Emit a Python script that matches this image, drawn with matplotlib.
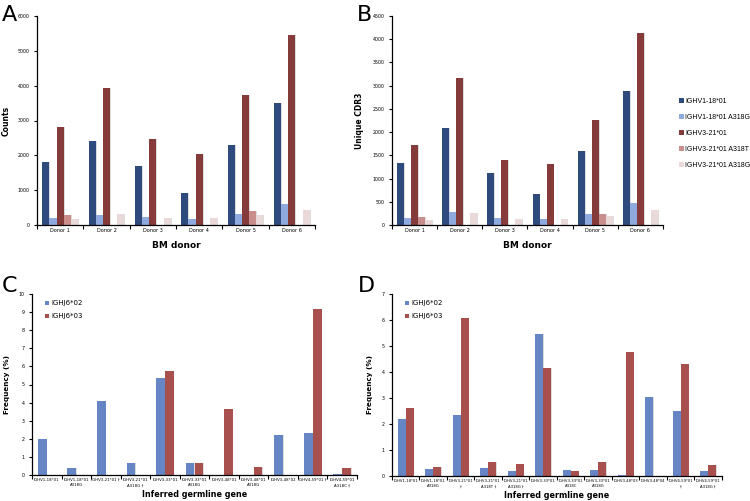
import matplotlib
matplotlib.use("Agg")
import matplotlib.pyplot as plt
import numpy as np

# ---- Data ----
donors = ["Donor 1", "Donor 2", "Donor 3", "Donor 4", "Donor 5", "Donor 6"]
series_ab = ["IGHV1-18*01", "IGHV1-18*01 A318G", "IGHV3-21*01",
             "IGHV3-21*01 A318T", "IGHV3-21*01 A318G"]
counts_v118 = [1800, 2420, 1700, 920, 2310, 3510]
counts_v118_a318g = [200, 300, 230, 160, 310, 600]
counts_v321 = [2800, 3940, 2470, 2050, 3730, 5450]
counts_v321_a318t = [280, 0, 0, 0, 390, 0]
counts_v321_a318g = [170, 330, 200, 190, 300, 420]

cdr3_v118 = [1340, 2080, 1130, 660, 1595, 2880]
cdr3_v118_a318g = [160, 270, 160, 130, 230, 475]
cdr3_v321 = [1720, 3160, 1390, 1310, 2260, 4140]
cdr3_v321_a318t = [180, 0, 0, 0, 240, 0]
cdr3_v321_a318g = [110, 250, 120, 120, 190, 320]

genes_c = ["IGHV1-18*01", "IGHV1-18*01\nA318G", "IGHV3-21*01 \u2020",
           "IGHV3-21*01\nA318G \u2020", "IGHV3-33*01", "IGHV3-33*01\nA318G",
           "IGHV3-48*01", "IGHV3-48*01\nA318G", "IGHV3-48*02",
           "IGHV4-59*01 \u2020", "IGHV4-59*01\nA318C \u2020"]
c_j602 = [1.97, 0.40, 4.10, 0.65, 5.35, 0.65, 0.0, 0.0, 2.20, 2.32, 0.08]
c_j603 = [0.0, 0.0, 0.0, 0.0, 5.75, 0.68, 3.64, 0.44, 0.0, 9.17, 0.37]

genes_d = ["IGHV1-18*01", "IGHV1-18*01\nA318G", "IGHV3-21*01\n\u2020",
           "IGHV3-21*01\nA318T \u2020", "IGHV3-21*01\nA318G \u2020",
           "IGHV3-33*01", "IGHV3-33*01\nA318C", "IGHV3-33*01\nA318G",
           "IGHV3-48*03", "IGHV3-48*04", "IGHV4-59*01\n\u2020",
           "IGHV4-59*01\nA318G \u2020"]
d_j602 = [2.19, 0.28, 2.35, 0.32, 0.20, 5.45, 0.25, 0.22, 0.03, 3.03, 2.49, 0.18]
d_j603 = [2.63, 0.35, 6.09, 0.53, 0.47, 4.15, 0.20, 0.52, 4.77, 0.0, 4.32, 0.41]

jlabels = ["IGHJ6*02", "IGHJ6*03"]

# ---- Style ----
cols_ab = ["#2F4B7E", "#8EAADF", "#853B3A", "#C98E8B", "#EAD9D9"]
cols_cd = ["#6585C4", "#A8504E"]
W, H = 750, 501
fig = plt.figure(figsize=(W / 100, H / 100), dpi=100)
plt.rcParams['font.family'] = ['DejaVu Sans']


def ax_px(x0, y0, x1, y1):
    return fig.add_axes([x0 / W, 1 - y1 / H, (x1 - x0) / W, (y1 - y0) / H])


def style(ax, n, xfs):
    for s in ["top", "right"]:
        ax.spines[s].set_visible(False)
    ax.spines["left"].set_linewidth(0.9)
    ax.spines["bottom"].set_linewidth(0.9)
    ax.set_xlim(-0.5, n - 0.5)
    ax.set_xticks(np.arange(n))
    ax.set_xticks(np.arange(n + 1) - 0.5, minor=True)
    ax.tick_params(axis="x", which="major", length=0, labelsize=xfs, pad=2)
    ax.tick_params(axis="x", which="minor", length=3, width=0.8, direction="out")
    ax.tick_params(axis="y", length=2.5, width=0.8, labelsize=3.4, pad=3)


def grouped(ax, data, cols, width, labels):
    k = len(data)
    x = np.arange(len(data[0]))
    for i, (vals, c) in enumerate(zip(data, cols)):
        off = (i - (k - 1) / 2) * width
        ax.bar(x + off + 0.02, vals, width, color="#dcdcdc", zorder=1, linewidth=0)
        ax.bar(x + off, vals, width, color=c, zorder=2, linewidth=0, label=labels[i])


# Panel A
axA = ax_px(37, 16, 315, 225)
grouped(axA, [counts_v118, counts_v118_a318g, counts_v321, counts_v321_a318t, counts_v321_a318g],
        cols_ab, 0.155, series_ab)
style(axA, len(donors), 3.6)
axA.set_ylim(0, 6000)
axA.set_yticks(np.arange(0, 6001, 1000))
axA.set_xticklabels(donors)
axA.set_ylabel("Counts", fontsize=5.5, fontweight="bold", labelpad=5)
axA.set_xlabel("BM donor", fontsize=6.5, fontweight="bold", labelpad=5)

# Panel B
axB = ax_px(392, 16, 663, 225)
grouped(axB, [cdr3_v118, cdr3_v118_a318g, cdr3_v321, cdr3_v321_a318t, cdr3_v321_a318g],
        cols_ab, 0.155, series_ab)
style(axB, len(donors), 3.6)
axB.set_ylim(0, 4500)
axB.set_yticks(np.arange(0, 4501, 500))
axB.set_xticklabels(donors)
axB.set_ylabel("Unique CDR3", fontsize=5.5, fontweight="bold", labelpad=6)
axB.set_xlabel("BM donor", fontsize=6.5, fontweight="bold", labelpad=5)

hB = [h for h in axB.containers[1::2]]
fig.legend(hB, series_ab, loc="upper left", bbox_to_anchor=(679 / W, 1 - 98 / H),
           frameon=False, prop={"family": "Liberation Sans", "size": 5.0},
           handlelength=0.7, handleheight=0.7,
           handletextpad=0.15, labelspacing=1.3, borderaxespad=0, borderpad=0)

# Panel C
axC = ax_px(32, 294, 357, 475)
grouped(axC, [c_j602, c_j603], cols_cd, 0.3, jlabels)
style(axC, len(genes_c), 2.8)
axC.set_ylim(0, 10)
axC.set_yticks(np.arange(0, 11, 1))
axC.set_xticklabels(genes_c, linespacing=1.5)
axC.set_ylabel("Frequency (%)", fontsize=5.2, fontweight="bold", labelpad=6)
axC.set_xlabel("Inferred germline gene", fontsize=5.8, fontweight="bold", labelpad=2)
axC.legend(axC.containers[1::2], jlabels, loc="upper left", bbox_to_anchor=(0.02, 1.0),
           frameon=False, fontsize=5.0, handlelength=0.6, handleheight=0.6,
           handletextpad=0.3, labelspacing=1.0)

# Panel D
axD = ax_px(392, 294, 722, 476)
grouped(axD, [d_j602, d_j603], cols_cd, 0.29, jlabels)
style(axD, len(genes_d), 2.7)
axD.set_ylim(0, 7)
axD.set_yticks(np.arange(0, 8, 1))
axD.set_xticklabels(genes_d, linespacing=1.5)
axD.set_ylabel("Frequency (%)", fontsize=5.2, fontweight="bold", labelpad=6)
axD.set_xlabel("Inferred germline gene", fontsize=5.8, fontweight="bold", labelpad=2)
axD.legend(axD.containers[1::2], jlabels, loc="upper left", bbox_to_anchor=(0.02, 1.0),
           frameon=False, fontsize=5.0, handlelength=0.6, handleheight=0.6,
           handletextpad=0.3, labelspacing=1.0)

# Panel letters
for lab, x, y in [("A", 2, 21), ("B", 357, 21), ("C", 2, 292), ("D", 358, 292)]:
    fig.text(x / W, 1 - y / H, lab, fontsize=16, ha="left", va="baseline")

fig.savefig("out.png", dpi=100, facecolor="white")
